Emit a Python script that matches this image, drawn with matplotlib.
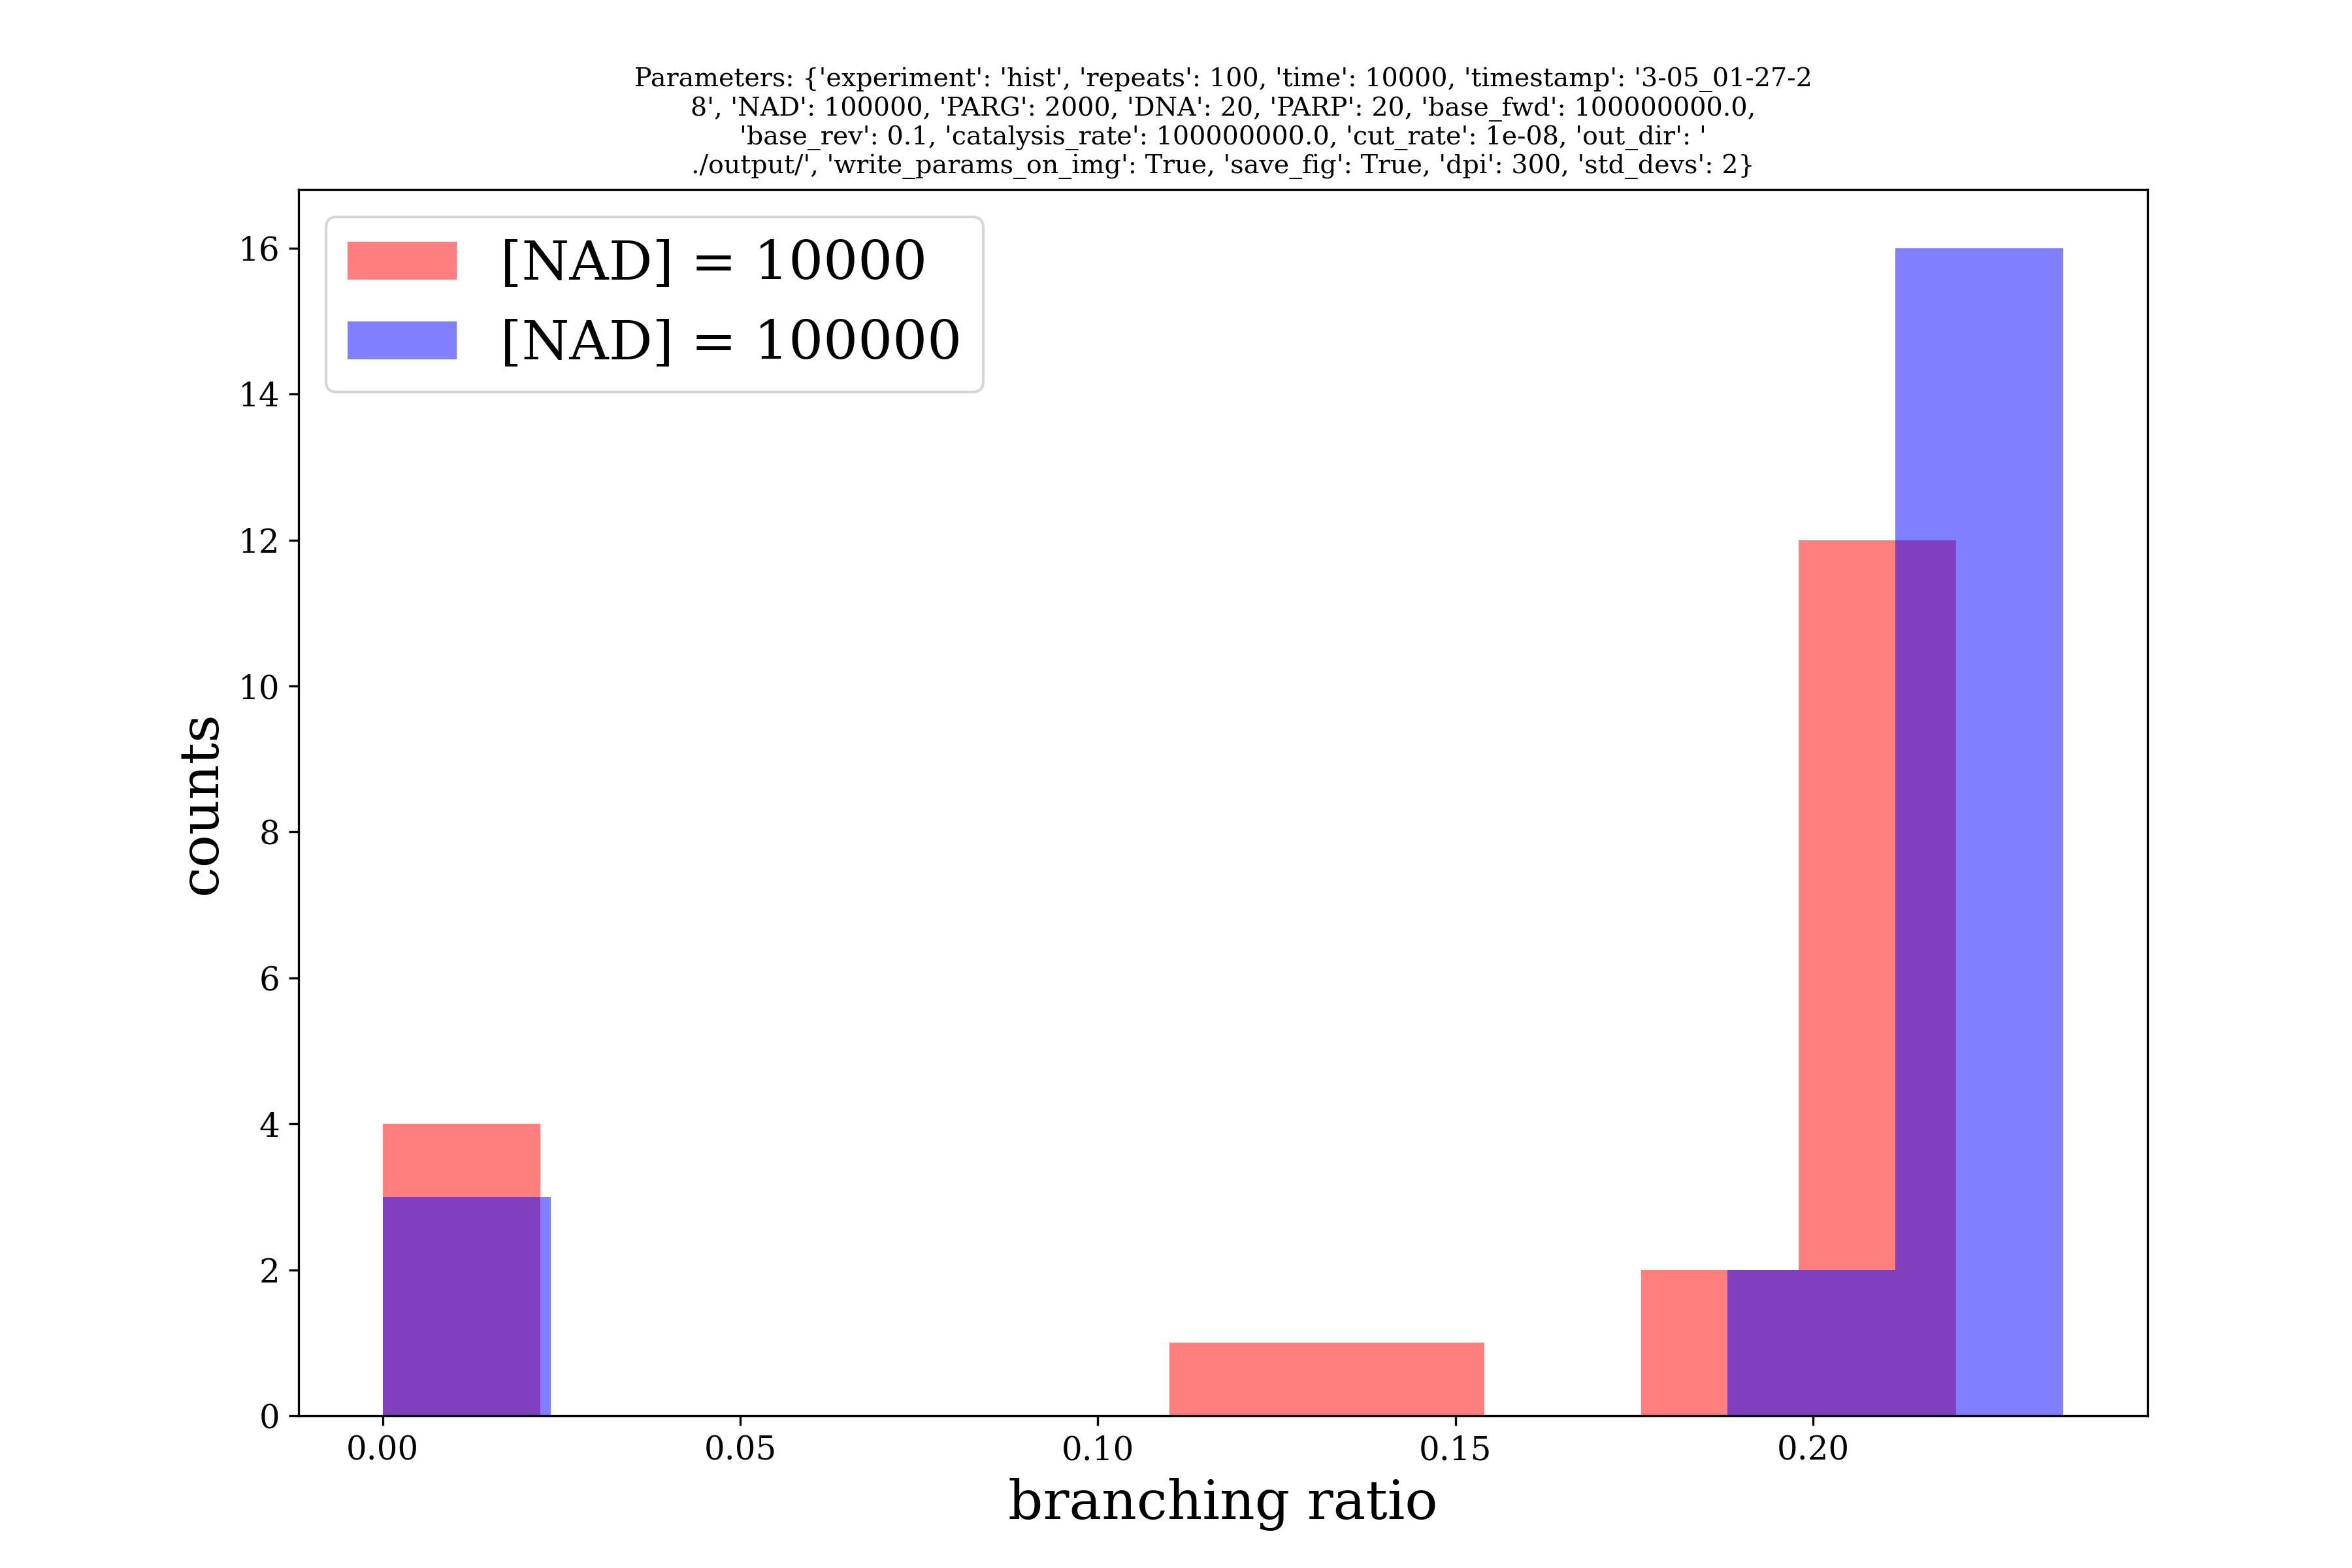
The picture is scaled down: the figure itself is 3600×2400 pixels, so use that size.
import numpy as np
import matplotlib.pyplot as plt

plt.rcParams['font.family'] = 'DejaVu Serif'

# histogram counts
red_edges = np.linspace(0.0, 0.22, 11)
red_counts = [4, 0, 0, 0, 0, 1, 1, 0, 2, 12]
blue_edges = np.linspace(0.0, 0.235, 11)
blue_counts = [3, 0, 0, 0, 0, 0, 0, 0, 2, 16]

title = ("Parameters: {'experiment': 'hist', 'repeats': 100, 'time': 10000, 'timestamp': '3-05_01-27-2\n"
         "8', 'NAD': 100000, 'PARG': 2000, 'DNA': 20, 'PARP': 20, 'base_fwd': 100000000.0,\n"
         "'base_rev': 0.1, 'catalysis_rate': 100000000.0, 'cut_rate': 1e-08, 'out_dir': '\n"
         "./output/', 'write_params_on_img': True, 'save_fig': True, 'dpi': 300, 'std_devs': 2}")

fig, ax = plt.subplots(figsize=(12, 8))
fig.subplots_adjust(left=0.127, right=0.913, bottom=0.097, top=0.879)

ax.hist(red_edges[:-1], bins=red_edges, weights=red_counts, color='red', alpha=0.5, label='[NAD] = 10000')
ax.hist(blue_edges[:-1], bins=blue_edges, weights=blue_counts, color='blue', alpha=0.5, label='[NAD] = 100000')

ax.set_xlabel('branching ratio', fontsize=20)
ax.set_ylabel('counts', fontsize=20)
ax.tick_params(labelsize=12)
ax.set_title(title, fontsize=9.5)
ax.legend(loc='upper left', fontsize=20)

fig.savefig('out.png', dpi=300)
